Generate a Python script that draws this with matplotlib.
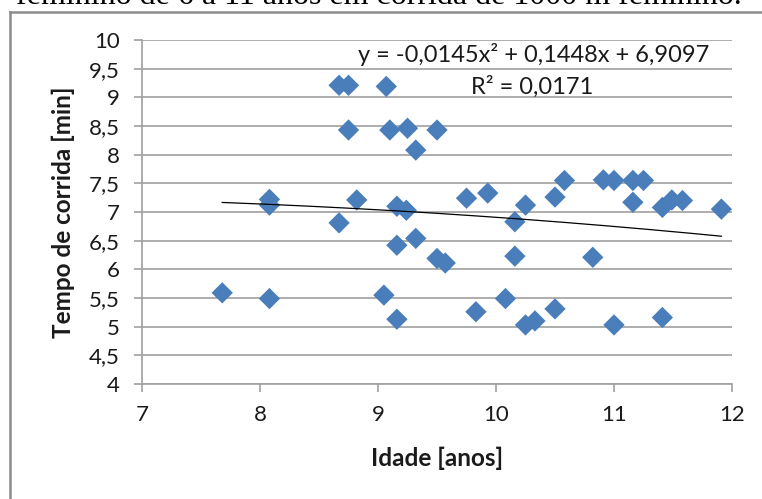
import matplotlib
matplotlib.use("Agg")
import matplotlib.pyplot as plt
import numpy as np
from matplotlib.lines import Line2D

plt.rcParams['font.family'] = ['Lato', 'DejaVu Sans']

# Data (Idade [anos], Tempo de corrida [min])
idade = [7.68, 8.08, 8.08, 8.08, 8.67, 8.75, 8.75, 8.67, 8.82, 9.07,
         9.10, 9.25, 9.32, 9.50, 9.05, 9.16, 9.16, 9.16, 9.24, 9.32,
         9.50, 9.57, 9.75, 9.93, 9.83, 10.08, 10.25, 10.33, 10.50, 10.25,
         10.16, 10.16, 10.50, 10.58, 10.91, 11.00, 11.16, 11.25, 11.16, 11.41,
         11.49, 11.58, 11.91, 10.82, 11.00, 11.41]
tempo = [5.59, 5.49, 7.22, 7.12, 9.21, 9.21, 8.43, 6.81, 7.21, 9.19,
         8.43, 8.46, 8.08, 8.43, 5.55, 5.13, 6.42, 7.10, 7.03, 6.54,
         6.19, 6.11, 7.24, 7.33, 5.26, 5.49, 5.03, 5.10, 5.31, 7.12,
         6.83, 6.23, 7.26, 7.55, 7.56, 7.55, 7.55, 7.55, 7.17, 7.08,
         7.21, 7.20, 7.05, 6.21, 5.03, 5.16]

# Polynomial trendline coefficients (from the chart's equation)
coef = [-0.0145, 0.1448, 6.9097]
equation = "y = -0,0145x² + 0,1448x + 6,9097"
r2_text = "R² = 0,0171"

x_ticks = [7, 8, 9, 10, 11, 12]
y_ticks = [4, 4.5, 5, 5.5, 6, 6.5, 7, 7.5, 8, 8.5, 9, 9.5, 10]
y_ticklabels = ["4", "4,5", "5", "5,5", "6", "6,5", "7", "7,5", "8", "8,5", "9", "9,5", "10"]

W, H = 762, 499
fig = plt.figure(figsize=(W / 100, H / 100), dpi=100)
ax = fig.add_axes([142 / W, 1 - 384 / H, (732 - 142) / W, (384 - 40) / H])

grid_col = '#a0a0a0'
txt_col = '#1a1a1a'
for yv in y_ticks:
    ax.axhline(yv, color=grid_col, lw=1.2, zorder=0)

ax.scatter(idade, tempo, marker='D', s=118, color='#4a7ebb', edgecolors='none', zorder=3)

xs = np.linspace(min(idade), max(idade), 200)
ax.plot(xs, np.polyval(coef, xs), color='black', lw=0.9, zorder=4)

ax.set_xlim(7, 12)
ax.set_ylim(4, 10)
ax.set_xticks(x_ticks)
ax.set_xticklabels([str(v) for v in x_ticks])
ax.set_yticks(y_ticks)
ax.set_yticklabels(y_ticklabels)

for s in ['top', 'right']:
    ax.spines[s].set_visible(False)
for s in ['left', 'bottom']:
    ax.spines[s].set_color(grid_col)
    ax.spines[s].set_linewidth(1.2)

ax.tick_params(axis='both', colors=grid_col, labelcolor=txt_col, labelsize=16, width=1.2)
ax.tick_params(axis='x', length=6, pad=9)
ax.tick_params(axis='y', length=6, pad=10)

ax.set_xlabel("Idade [anos]", fontsize=17.5, fontweight='bold', labelpad=16, color=txt_col)
ax.set_ylabel("Tempo de corrida [min]", fontsize=17.5, fontweight='bold', labelpad=10, color=txt_col)

ax.text(10.32, 9.74, equation, fontsize=17, ha='center', va='center', color=txt_col, zorder=5)
ax.text(10.31, 9.18, r2_text, fontsize=17, ha='center', va='center', color=txt_col, zorder=5)

# outer frame (partially visible)
fig.add_artist(Line2D([10 / W, 10 / W], [0, 1 - 12 / H], color='#8c8c8c', lw=1.8, transform=fig.transFigure))
fig.add_artist(Line2D([10 / W, 1], [1 - 12 / H, 1 - 12 / H], color='#8c8c8c', lw=1.8, transform=fig.transFigure))

# cropped caption at the very top
fig.text(16 / W, 1 - 4 / H, "feminino de 6 a 11 anos em corrida de 1000 m feminino.",
         fontsize=23, family='Liberation Serif', ha='left', va='baseline', color='black')

fig.savefig("out.png", dpi=100)
